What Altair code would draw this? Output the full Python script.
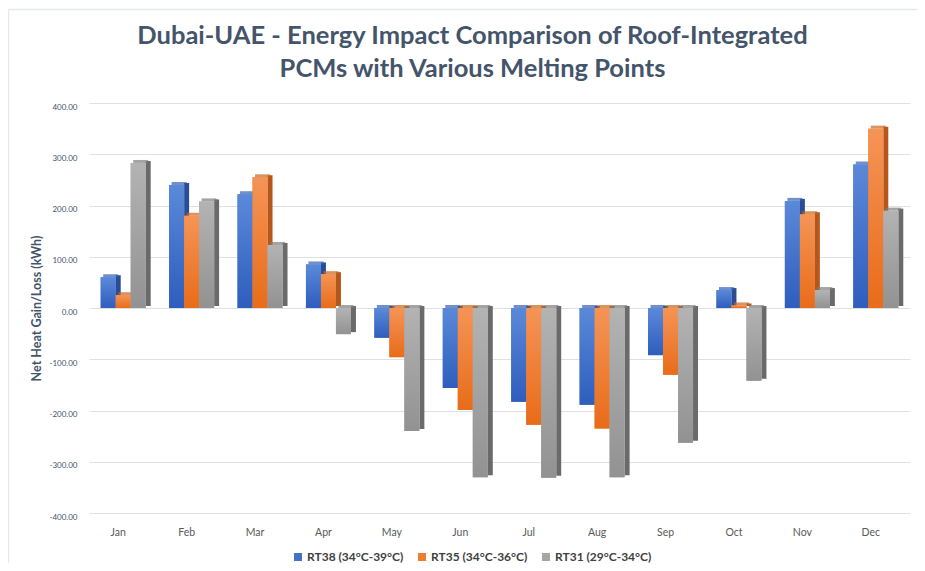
import altair as alt
import pandas as pd

months = ["Jan", "Feb", "Mar", "Apr", "May", "Jun", "Jul", "Aug", "Sep", "Oct", "Nov", "Dec"]
series = ["RT38 (34°C-39°C)", "RT35 (34°C-36°C)", "RT31 (29°C-34°C)"]
rt38 = [60, 240, 222, 85, -58, -156, -183, -189, -92, 35, 209, 280]
rt35 = [25, 180, 255, 66, -96, -199, -228, -235, -130, 5, 183, 350]
rt31 = [283, 208, 123, -51, -240, -330, -331, -330, -263, -142, 35, 190]
y_ticks = [-400, -300, -200, -100, 0, 100, 200, 300, 400]

legend_colors = ["#4472C4", "#ED7D31", "#A5A5A5"]
side_colors = ["#2A4C92", "#B4571C", "#6A6A6A"]
top_colors = ["#3560B5", "#C8651F", "#7E7E7E"]
grad_stops = [
    ("#5B89D9", "#2E5DBD"),
    ("#F59457", "#E86C19"),
    ("#B3B3B3", "#929292"),
]

rows = []
for s, vals in zip(series, [rt38, rt35, rt31]):
    for m, v in zip(months, vals):
        rows.append({"month": m, "series": s, "value": v, "top": max(v, 0)})
df = pd.DataFrame(rows)

BAND = 45.0  # pixel width of one month's group of three bars


def x_enc():
    return alt.X("month:N", sort=months, title=None,
                 scale=alt.Scale(paddingInner=0.342, paddingOuter=0.171),
                 axis=alt.Axis(labelAngle=0, domain=False, ticks=False, labelPadding=14,
                               labelOffset=-5, labelFontSize=10.5, labelColor="#595959",
                               labelFont="Lato"))


def xo_enc(shift):
    return alt.XOffset("series:N", sort=series,
                       scale=alt.Scale(domain=series, range=[shift, shift + BAND],
                                       paddingInner=0, paddingOuter=0))


y_scale = alt.Scale(domain=[-400, 400], nice=False)
base = alt.Chart(df)

frame = alt.Chart(pd.DataFrame({"f": [0]})).mark_rect(
    filled=False, stroke="#E6E9EC", strokeWidth=1.5
).encode(
    x=alt.value(-80.5), x2=alt.value(900), y=alt.value(-93.5), y2=alt.value(520)
)

side = base.mark_bar(width=5, yOffset=-2).encode(
    x=x_enc(), xOffset=xo_enc(10),
    y=alt.Y("value:Q", scale=y_scale),
    color=alt.Color("series:N", sort=series, legend=None,
                    scale=alt.Scale(domain=series, range=side_colors)),
)

top = base.mark_tick(orient="horizontal", thickness=3, size=15, yOffset=-1.5).encode(
    x=x_enc(), xOffset=xo_enc(2.5),
    y=alt.Y("top:Q", scale=y_scale),
    color=alt.Color("series:N", sort=series, legend=None,
                    scale=alt.Scale(domain=series, range=top_colors)),
)

front = base.mark_bar().encode(
    x=x_enc(), xOffset=xo_enc(0),
    y=alt.Y("value:Q", scale=y_scale, title="Net Heat Gain/Loss (kWh)",
            axis=alt.Axis(values=y_ticks, domain=False, ticks=False, grid=True,
                          gridColor="#DDE1E6", gridWidth=1,
                          labelExpr="replace(format(datum.value, '.2f'), '\u2212', '-')",
                          labelFontSize=8, labelColor="#44546A", labelFont="Lato",
                          labelPadding=12, labelOffset=4,
                          titleFont="Lato", titleFontSize=12.5, titleFontWeight="bold",
                          titleColor="#44546A", titlePadding=5)),
    color=alt.Color("series:N", sort=series, title=None,
                    scale=alt.Scale(domain=series, range=legend_colors),
                    legend=alt.Legend(orient="none", direction="horizontal", legendX=203,
                                      legendY=448, symbolType="square", symbolSize=64,
                                      symbolStrokeWidth=0, labelFont="Lato",
                                      labelFontSize=12, labelFontWeight="bold",
                                      labelColor="#404040", columnPadding=12,
                                      labelOffset=3, labelLimit=200)),
)

grad_layers = []
for s, (c_top, c_bot) in zip(series, grad_stops):
    grad = alt.Gradient(gradient="linear", x1=0, x2=0, y1=0, y2=1,
                        stops=[alt.GradientStop(color=c_top, offset=0),
                               alt.GradientStop(color=c_bot, offset=1)])
    grad_layers.append(
        base.transform_filter(alt.datum.series == s).mark_bar(color=grad).encode(
            x=x_enc(), xOffset=xo_enc(0),
            y=alt.Y("value:Q", scale=y_scale),
        )
    )

chart = alt.layer(frame, side, top, front, *grad_layers).resolve_scale(
    color="independent", xOffset="independent"
).properties(
    width=821,
    height=410,
    background="white",
    title=alt.TitleParams(
        text=["Dubai-UAE - Energy Impact Comparison of Roof-Integrated",
              "PCMs with Various Melting Points"],
        font="Lato", fontSize=25.5, fontWeight="bold", color="#44546A",
        anchor="middle", dx=-27, offset=-74, lineHeight=33,
    ),
    autosize=alt.AutoSizeParams(type="none"),
    padding={"left": 81, "top": 95, "right": 7, "bottom": 50},
).configure_view(strokeWidth=0, stroke="transparent")

chart.save("out.html", embed_options={"renderer": "svg", "actions": False})
